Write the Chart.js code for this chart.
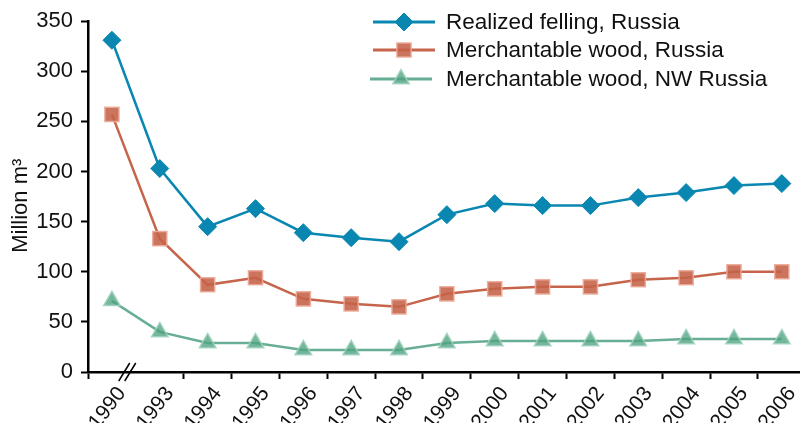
<!DOCTYPE html>
<html>
<head>
<meta charset="utf-8">
<script src="https://cdn.jsdelivr.net/npm/chart.js@4.4.0/dist/chart.umd.min.js"></script>
<style>
  html, body { margin: 0; padding: 0; background: #fff; }
</style>
</head>
<body>
<canvas id="chart" width="800" height="423"></canvas>
<script>
// values (million m3)
const years = ['1990', '1993', '1994', '1995', '1996', '1997', '1998', '1999',
  '2000', '2001', '2002', '2003', '2004', '2005', '2006'];
const realizedFelling = [331, 203, 145, 163, 139, 134, 130, 157, 168, 166, 166, 174, 179, 186, 188];
const merchRussia = [257, 133, 87, 94, 73, 68, 65, 78, 83, 85, 85, 92, 94, 100, 100];
const merchNW = [71, 40, 29, 29, 22, 22, 22, 29, 31, 31, 31, 31, 33, 33, 33];
const yTicks = [0, 50, 100, 150, 200, 250, 300, 350];

const FONT = '"Liberation Sans", Arial, Helvetica, sans-serif';

const toPoints = arr => arr.map((v, i) => ({ x: i, y: v }));

const series = [
  {
    label: 'Realized felling, Russia',
    data: toPoints(realizedFelling),
    borderColor: '#0a87b1',
    borderWidth: 2.5,
    pointStyle: 'rectRot',
    pointRadius: 9,
    pointBackgroundColor: '#0a87b1',
    pointBorderColor: '#0a87b1',
    pointBorderWidth: 1
  },
  {
    label: 'Merchantable wood, Russia',
    data: toPoints(merchRussia),
    borderColor: '#c6654b',
    borderWidth: 2.5,
    pointStyle: 'rect',
    pointRadius: 10,
    pointBackgroundColor: 'rgba(197, 98, 72, 0.88)',
    pointBorderColor: 'rgba(236, 170, 152, 0.9)',
    pointBorderWidth: 1.5
  },
  {
    label: 'Merchantable wood, NW Russia',
    data: toPoints(merchNW),
    borderColor: '#67ae94',
    borderWidth: 2.5,
    pointStyle: 'triangle',
    pointRadius: 9.5,
    pointBackgroundColor: 'rgba(78, 163, 128, 0.78)',
    pointBorderColor: 'rgba(160, 210, 190, 0.9)',
    pointBorderWidth: 1.5
  }
];

// legend drawn as line + marker, like the original figure
const lineLegend = {
  id: 'lineLegend',
  afterDraw(chart) {
    const ctx = chart.ctx;
    const rows = [
      { y: 22, x0: 373, x1: 435 },
      { y: 50, x0: 373, x1: 435 },
      { y: 79, x0: 370, x1: 432 }
    ];
    ctx.save();
    chart.data.datasets.forEach((ds, i) => {
      const r = rows[i];
      ctx.strokeStyle = ds.borderColor;
      ctx.lineWidth = 3;
      ctx.beginPath();
      ctx.moveTo(r.x0, r.y);
      ctx.lineTo(r.x1, r.y);
      ctx.stroke();
      ctx.fillStyle = ds.pointBackgroundColor;
      ctx.strokeStyle = ds.pointBorderColor;
      ctx.lineWidth = ds.pointBorderWidth;
      Chart.helpers.drawPoint(ctx, {
        pointStyle: ds.pointStyle,
        radius: ds.pointRadius,
        rotation: 0,
        borderWidth: ds.pointBorderWidth
      }, (r.x0 + r.x1) / 2, r.y);
      ctx.fillStyle = '#111';
      ctx.font = '22.5px ' + FONT;
      ctx.textBaseline = 'middle';
      ctx.textAlign = 'left';
      ctx.fillText(ds.label, 446, r.y + 1);
    });
    ctx.restore();
  }
};

// the "//" axis break between 1990 and 1993
const axisBreak = {
  id: 'axisBreak',
  afterDraw(chart) {
    const xs = chart.scales.x;
    const cx = xs.getPixelForValue(0.32);
    const cy = xs.top;
    const ctx = chart.ctx;
    ctx.save();
    ctx.strokeStyle = '#000';
    ctx.lineWidth = 1.5;
    [-3, 3].forEach(d => {
      ctx.beginPath();
      ctx.moveTo(cx + d - 5.5, cy + 9);
      ctx.lineTo(cx + d + 5.5, cy - 9);
      ctx.stroke();
    });
    ctx.restore();
  }
};

new Chart(document.getElementById('chart'), {
  type: 'line',
  data: { datasets: series },
  options: {
    responsive: false,
    animation: false,
    layout: { autoPadding: false, padding: { top: 18, right: 0, left: 0, bottom: 0 } },
    elements: { line: { tension: 0 } },
    clip: false,
    plugins: {
      legend: { display: false },
      tooltip: { enabled: false }
    },
    scales: {
      x: {
        type: 'linear',
        min: -0.5,
        max: 14.38,
        afterBuildTicks: scale => {
          scale.ticks = years.map((y, i) => ({ value: i }));
        },
        afterFit: scale => {
          scale.height = 51;
          scale.paddingLeft = 0;
          scale.paddingRight = 0;
        },
        ticks: {
          autoSkip: false,
          minRotation: 52,
          maxRotation: 52,
          padding: 3,
          labelOffset: 10,
          color: '#111',
          font: { family: FONT, size: 21 },
          callback: value => years[Math.round(value)]
        },
        grid: {
          offset: true,
          drawOnChartArea: false,
          drawTicks: true,
          tickLength: 7,
          tickWidth: 2,
          tickColor: ctx => (ctx.index === 1 ? 'rgba(0,0,0,0)' : '#000')
        },
        border: { color: '#000', width: 2.5 }
      },
      y: {
        min: 0,
        max: 350,
        afterBuildTicks: scale => {
          scale.ticks = yTicks.map(v => ({ value: v }));
        },
        afterFit: scale => {
          scale.width = 88;
        },
        ticks: {
          padding: 8,
          color: '#111',
          font: { family: FONT, size: 22 }
        },
        grid: {
          drawOnChartArea: false,
          drawTicks: true,
          tickLength: 7,
          tickWidth: 2,
          tickColor: '#000'
        },
        border: { color: '#000', width: 2.5 },
        title: {
          display: true,
          text: 'Million m³   ',
          color: '#111',
          font: { family: FONT, size: 22 },
          padding: { top: 8, bottom: 0 }
        }
      }
    }
  },
  plugins: [lineLegend, axisBreak]
});
</script>
</body>
</html>
